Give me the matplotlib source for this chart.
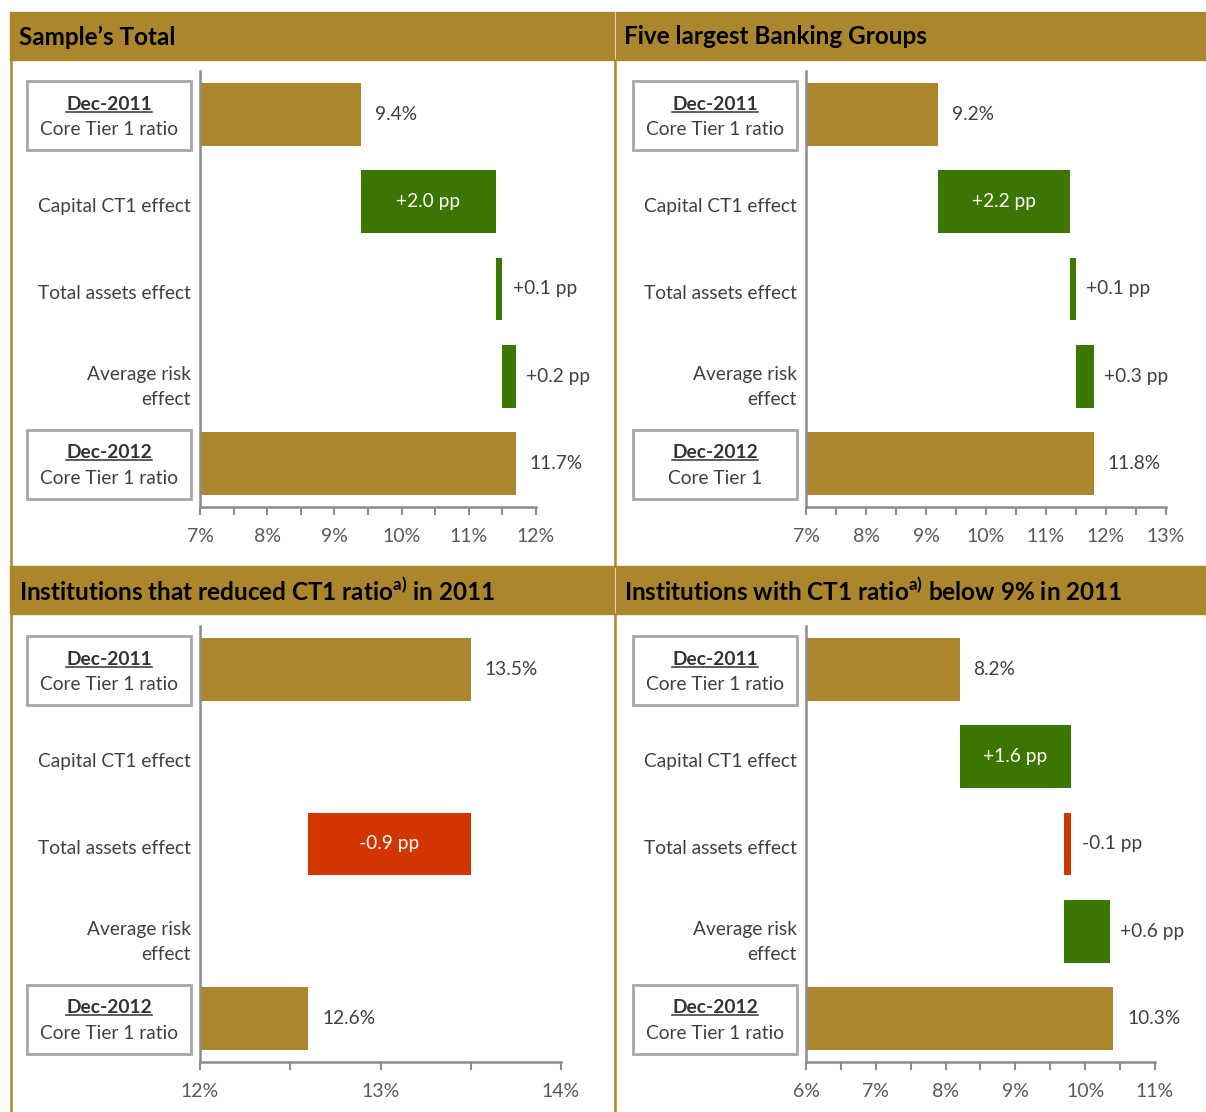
import matplotlib.pyplot as plt
from matplotlib.patches import Rectangle
from matplotlib.lines import Line2D
from matplotlib.ticker import MultipleLocator

plt.rcParams['font.family'] = ['Lato', 'DejaVu Sans']
plt.rcParams['mathtext.fontset'] = 'custom'
plt.rcParams['mathtext.rm'] = 'Lato'
plt.rcParams['mathtext.bf'] = 'Lato:bold'

# ---- data (Core Tier 1 ratio, %) ----
categories = ["Dec-2011", "Capital CT1 effect", "Total assets effect",
              "Average risk\neffect", "Dec-2012"]

total_start, total_deltas, total_end = 9.4, [2.0, 0.1, 0.2], 11.7
total_labels = ["9.4%", "+2.0 pp", "+0.1 pp", "+0.2 pp", "11.7%"]

big5_start, big5_deltas, big5_end = 9.2, [2.2, 0.1, 0.3], 11.8
big5_labels = ["9.2%", "+2.2 pp", "+0.1 pp", "+0.3 pp", "11.8%"]

reduced_start, reduced_deltas, reduced_end = 13.5, [0.0, -0.9, 0.0], 12.6
reduced_labels = ["13.5%", "", "-0.9 pp", "", "12.6%"]

below9_start, below9_deltas, below9_end = 8.2, [1.6, -0.1, 0.65], 10.4
below9_labels = ["8.2%", "+1.6 pp", "-0.1 pp", "+0.6 pp", "10.3%"]

GOLD = '#AB862C'
GREEN = '#3B7600'
RED = '#D23600'
TXT = '#404040'
AXC = '#8C8C8C'
FS = 13.8

W, H = 1206, 1112
fig = plt.figure(figsize=(W / 100, H / 100), dpi=100)


def rect(x, y, w, h):
    return [x / W, 1 - (y + h) / H, w / W, h / H]


# header bands and frame lines
for (x, y, w, h) in [(10, 12, 604, 48), (616, 12, 590, 48),
                     (10, 566, 604, 48), (616, 566, 590, 48)]:
    fig.patches.append(Rectangle((x / W, 1 - (y + h) / H), w / W, h / H,
                                 transform=fig.transFigure, color=GOLD, zorder=0))
for xv in [10.5, 614.5]:
    for (y0, y1) in [(60, 566), (614, 1112)]:
        fig.add_artist(Line2D([xv / W, xv / W], [1 - y0 / H, 1 - y1 / H],
                              transform=fig.transFigure, color=GOLD, lw=1.8))

titles = ["Sample’s Total", "Five largest Banking Groups",
          r"Institutions that reduced CT1 ratio$^{\mathbf{a)}}$ in 2011",
          r"Institutions with CT1 ratio$^{\mathbf{a)}}$ below 9% in 2011"]
for t, (x, y) in zip(titles, [(19, 37), (624, 37), (19, 591), (624, 591)]):
    fig.text(x / W, 1 - y / H, t, fontsize=17.5, fontweight='bold',
             color='black', ha='left', va='center')

underline_targets = []


def draw(axpx, start, deltas, end, labels, xlim, end_box):
    ax = fig.add_axes(rect(*axpx))
    w = axpx[2]

    def xf(dpx):
        # position given in pixels relative to the axes' left edge
        return dpx / w

    ax.barh(0, start, height=0.72, color=GOLD)
    ax.annotate(labels[0], (start, 0), xytext=(10, 0), textcoords='offset points',
                va='center', ha='left', fontsize=FS, color=TXT)
    cum = start
    for i, d in enumerate(deltas):
        row = i + 1
        if d != 0:
            ax.barh(row, d, left=cum, height=0.72, color=GREEN if d > 0 else RED)
            if abs(d) >= 0.8:
                ax.text(cum + d / 2, row, labels[row], ha='center', va='center',
                        fontsize=FS, color='white')
            else:
                ax.annotate(labels[row], (max(cum, cum + d), row), xytext=(7.5, 0),
                            textcoords='offset points', va='center', ha='left',
                            fontsize=FS, color=TXT)
        cum += d
    ax.barh(4, end, height=0.72, color=GOLD)
    ax.annotate(labels[4], (end, 4), xytext=(10, 0), textcoords='offset points',
                va='center', ha='left', fontsize=FS, color=TXT)

    ax.set_xlim(*xlim)
    ax.set_ylim(4.5, -0.5)
    ax.set_yticks([])
    ax.xaxis.set_major_locator(MultipleLocator(1))
    ax.xaxis.set_minor_locator(MultipleLocator(0.5))
    ax.xaxis.set_major_formatter(lambda v, p: f"{v:.0f}%")
    ax.tick_params(axis='x', which='both', direction='out', length=6, width=1.5,
                   color=AXC, labelcolor='#595959', labelsize=14, pad=9)
    for s in ['top', 'right']:
        ax.spines[s].set_visible(False)
    for s in ['left', 'bottom']:
        ax.spines[s].set_color(AXC)
        ax.spines[s].set_linewidth(1.8)

    tr = ax.get_yaxis_transform()
    for row in [1, 2, 3]:
        dy = 0.12 if "\n" in categories[row] else 0.05
        ax.text(xf(-9), row + dy, categories[row], ha='right', va='center',
                fontsize=FS, color=TXT, transform=tr, linespacing=1.55)
    for row, sub in [(0, "Core Tier 1 ratio"), (4, end_box)]:
        ax.add_patch(Rectangle((xf(-173), row - 0.38), xf(164), 0.79,
                               transform=tr, facecolor='white', edgecolor='#A5A8AB',
                               lw=2, clip_on=False))
        t = ax.text(xf(-91), row - 0.12, categories[row], ha='center', va='center',
                    fontsize=FS, fontweight='bold', color='#333333', transform=tr)
        underline_targets.append(t)
        ax.text(xf(-91), row + 0.17, sub, ha='center', va='center',
                fontsize=FS, color=TXT, transform=tr)
    return ax


draw((200, 71, 336, 436), total_start, total_deltas, total_end, total_labels,
     (7, 12), "Core Tier 1 ratio")
draw((806, 71, 360, 436), big5_start, big5_deltas, big5_end, big5_labels,
     (7, 13), "Core Tier 1")
draw((200, 626, 361, 436), reduced_start, reduced_deltas, reduced_end, reduced_labels,
     (12, 14), "Core Tier 1 ratio")
draw((806, 626, 349, 436), below9_start, below9_deltas, below9_end, below9_labels,
     (6, 11), "Core Tier 1 ratio")

# underline the date labels inside the boxes
fig.canvas.draw()
r = fig.canvas.get_renderer()
for t in underline_targets:
    bb = t.get_window_extent(r)
    y = bb.y0 + 1
    fig.add_artist(Line2D([bb.x0 / W, bb.x1 / W], [y / H, y / H],
                          transform=fig.transFigure, color='#333333', lw=1.1))

fig.savefig('out.png', dpi=100)
